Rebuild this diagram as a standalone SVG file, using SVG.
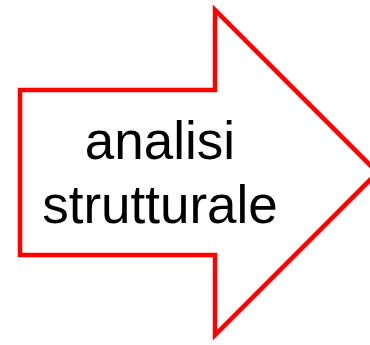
<svg xmlns="http://www.w3.org/2000/svg" width="370" height="345" viewBox="0 0 370 345">
<style>
.arrow{fill:#ffffff;stroke:#ff0000;stroke-width:4.5;stroke-linejoin:miter;stroke-miterlimit:10}
.lbl{font-family:"Liberation Sans",Arial,sans-serif;font-size:53px;fill:#000000;text-anchor:middle}
</style>
<rect width="370" height="345" fill="#ffffff"/>
<g id="connectors"></g>
<g id="node-arrow">
<polygon class="arrow" points="20,90 215,90 215,10 377.5,172.5 215,335 215,255 20,255"/>
<text class="lbl" x="160" y="159">analisi</text>
<text class="lbl" x="160" y="223">strutturale</text>
</g>
</svg>
